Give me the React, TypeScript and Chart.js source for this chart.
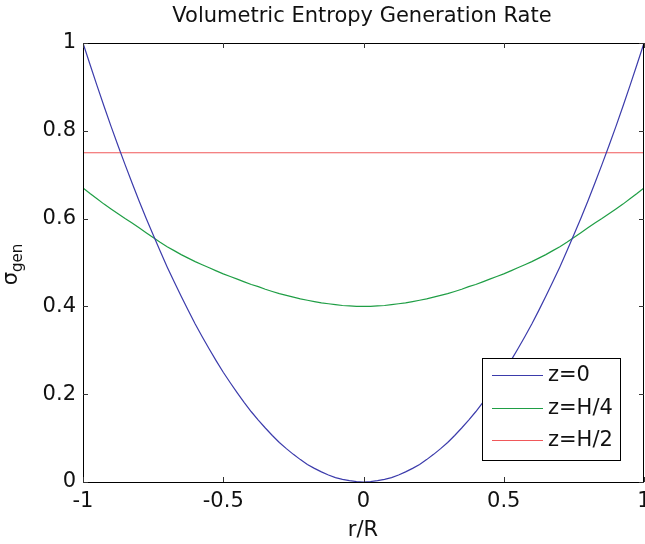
import React, { useEffect, useRef } from "react";
import { Chart, registerables } from "chart.js";

Chart.register(...registerables);

const rValues = [
  -1, -0.975, -0.95, -0.925, -0.9, -0.875, -0.85, -0.825, -0.8, -0.775,
  -0.75, -0.725, -0.7, -0.675, -0.65, -0.625, -0.6, -0.575, -0.55, -0.525,
  -0.5, -0.475, -0.45, -0.425, -0.4, -0.375, -0.35, -0.325, -0.3, -0.275,
  -0.25, -0.225, -0.2, -0.175, -0.15, -0.125, -0.1, -0.075, -0.05, -0.025,
  0,
  0.025, 0.05, 0.075, 0.1, 0.125, 0.15, 0.175, 0.2, 0.225, 0.25,
  0.275, 0.3, 0.325, 0.35, 0.375, 0.4, 0.425, 0.45, 0.475, 0.5,
  0.525, 0.55, 0.575, 0.6, 0.625, 0.65, 0.675, 0.7, 0.725, 0.75,
  0.775, 0.8, 0.825, 0.85, 0.875, 0.9, 0.925, 0.95, 0.975, 1,
];

const sigmaZ0 = [
  1.0, 0.951, 0.903, 0.856, 0.81, 0.766, 0.723, 0.681, 0.64, 0.601,
  0.563, 0.526, 0.49, 0.456, 0.423, 0.391, 0.36, 0.331, 0.303, 0.276,
  0.25, 0.226, 0.203, 0.181, 0.16, 0.141, 0.123, 0.106, 0.09, 0.076,
  0.063, 0.051, 0.04, 0.031, 0.023, 0.016, 0.01, 0.006, 0.003, 0.001,
  0.0,
  0.001, 0.003, 0.006, 0.01, 0.016, 0.023, 0.031, 0.04, 0.051, 0.063,
  0.076, 0.09, 0.106, 0.123, 0.141, 0.16, 0.181, 0.203, 0.226, 0.25,
  0.276, 0.303, 0.331, 0.36, 0.391, 0.423, 0.456, 0.49, 0.526, 0.563,
  0.601, 0.64, 0.681, 0.723, 0.766, 0.81, 0.856, 0.903, 0.951, 1.0,
];

const sigmaZH4 = [
  0.67, 0.657, 0.645, 0.633, 0.622, 0.611, 0.6, 0.59, 0.579, 0.568,
  0.557, 0.546, 0.536, 0.527, 0.518, 0.51, 0.502, 0.495, 0.488, 0.481,
  0.474, 0.468, 0.462, 0.456, 0.45, 0.445, 0.439, 0.434, 0.429, 0.425,
  0.421, 0.417, 0.414, 0.411, 0.408, 0.406, 0.404, 0.402, 0.401, 0.4,
  0.4,
  0.4, 0.401, 0.402, 0.404, 0.406, 0.408, 0.411, 0.414, 0.417, 0.421,
  0.425, 0.429, 0.434, 0.439, 0.445, 0.45, 0.456, 0.462, 0.468, 0.474,
  0.481, 0.488, 0.495, 0.502, 0.51, 0.518, 0.527, 0.536, 0.546, 0.557,
  0.568, 0.579, 0.59, 0.6, 0.611, 0.622, 0.633, 0.645, 0.657, 0.67,
];

const sigmaZH2 = [
  0.75, 0.75, 0.75, 0.75, 0.75, 0.75, 0.75, 0.75, 0.75, 0.75,
  0.75, 0.75, 0.75, 0.75, 0.75, 0.75, 0.75, 0.75, 0.75, 0.75,
  0.75, 0.75, 0.75, 0.75, 0.75, 0.75, 0.75, 0.75, 0.75, 0.75,
  0.75, 0.75, 0.75, 0.75, 0.75, 0.75, 0.75, 0.75, 0.75, 0.75,
  0.75,
  0.75, 0.75, 0.75, 0.75, 0.75, 0.75, 0.75, 0.75, 0.75, 0.75,
  0.75, 0.75, 0.75, 0.75, 0.75, 0.75, 0.75, 0.75, 0.75, 0.75,
  0.75, 0.75, 0.75, 0.75, 0.75, 0.75, 0.75, 0.75, 0.75, 0.75,
  0.75, 0.75, 0.75, 0.75, 0.75, 0.75, 0.75, 0.75, 0.75, 0.75,
];

const seriesLabels = ["z=0", "z=H/4", "z=H/2"];
const seriesColors = ["#3b3bab", "#1f9e45", "#f0585a"];
const xTicks = [-1, -0.5, 0, 0.5, 1];
const yTicks = [0, 0.2, 0.4, 0.6, 0.8, 1];
const titleText = "Volumetric Entropy Generation Rate";
const xLabel = "r/R";
const yLabelMain = "σ";
const yLabelSub = "gen";

const FONT = "'DejaVu Sans', sans-serif";

const decorPlugin = {
  id: "matlabDecor",
  afterDraw(chart: any) {
    const ctx = chart.ctx as CanvasRenderingContext2D;
    const area = chart.chartArea;
    const xs = chart.scales.x;
    const ys = chart.scales.y;
    ctx.save();

    // box
    ctx.strokeStyle = "#000";
    ctx.lineWidth = 1;
    ctx.strokeRect(area.left + 0.5, area.top + 0.5, area.right - area.left - 1, area.bottom - area.top);

    // inward tick marks
    const tl = 5;
    ctx.strokeStyle = "#333";
    ctx.beginPath();
    xTicks.forEach((t) => {
      const px = Math.round(xs.getPixelForValue(t)) + 0.5;
      ctx.moveTo(px, area.bottom);
      ctx.lineTo(px, area.bottom - tl);
      ctx.moveTo(px, area.top);
      ctx.lineTo(px, area.top + tl);
    });
    yTicks.forEach((t) => {
      const py = Math.round(ys.getPixelForValue(t)) + 0.5;
      ctx.moveTo(area.left, py);
      ctx.lineTo(area.left + tl, py);
      ctx.moveTo(area.right, py);
      ctx.lineTo(area.right - tl, py);
    });
    ctx.stroke();

    // title
    ctx.fillStyle = "#111";
    ctx.font = `21px ${FONT}`;
    ctx.textAlign = "center";
    ctx.textBaseline = "alphabetic";
    ctx.fillText(titleText, 362, 22);

    // x label
    ctx.fillText(xLabel, 363, 536);

    // y label (rotated with subscript)
    ctx.font = `21px ${FONT}`;
    const wMain = ctx.measureText(yLabelMain).width;
    ctx.font = `15px ${FONT}`;
    const wSub = ctx.measureText(yLabelSub).width;
    const total = wMain + wSub;
    const cy = (area.top + area.bottom) / 2 + 2;
    ctx.save();
    ctx.translate(17, cy + total / 2);
    ctx.rotate(-Math.PI / 2);
    ctx.textAlign = "left";
    ctx.font = `21px ${FONT}`;
    ctx.fillText(yLabelMain, 0, 0);
    ctx.font = `15px ${FONT}`;
    ctx.fillText(yLabelSub, wMain, 5);
    ctx.restore();

    // legend
    const lx = 482, ly = 358, lw = 138, lh = 102;
    ctx.fillStyle = "#fff";
    ctx.fillRect(lx, ly, lw, lh);
    ctx.strokeStyle = "#000";
    ctx.lineWidth = 1;
    ctx.strokeRect(lx + 0.5, ly + 0.5, lw, lh);
    const rows = [375, 408, 440];
    chart.data.datasets.forEach((ds: any, i: number) => {
      ctx.strokeStyle = ds.borderColor;
      ctx.lineWidth = 1.2;
      ctx.beginPath();
      ctx.moveTo(492, rows[i] + 0.5);
      ctx.lineTo(543, rows[i] + 0.5);
      ctx.stroke();
      ctx.fillStyle = "#111";
      ctx.font = `21px ${FONT}`;
      ctx.textAlign = "left";
      ctx.textBaseline = "middle";
      ctx.fillText(ds.label, 548, rows[i] + 1);
    });

    ctx.restore();
  },
};

export default function App() {
  const canvasRef = useRef<HTMLCanvasElement | null>(null);

  useEffect(() => {
    document.body.style.margin = "0";
    const canvas = canvasRef.current;
    if (!canvas) return;
    const seriesValues = [sigmaZ0, sigmaZH4, sigmaZH2];
    const chart = new Chart(canvas, {
      type: "line",
      data: {
        datasets: seriesValues.map((vals, i) => ({
          label: seriesLabels[i],
          data: rValues.map((r, j) => ({ x: r, y: vals[j] })),
          borderColor: seriesColors[i],
          backgroundColor: seriesColors[i],
          borderWidth: 1.2,
          pointRadius: 0,
          tension: 0,
          fill: false,
        })),
      },
      options: {
        responsive: false,
        animation: false,
        devicePixelRatio: 1,
        layout: { padding: { top: 43, left: 0, right: 1, bottom: 0 } },
        plugins: {
          legend: { display: false },
          title: { display: false },
          tooltip: { enabled: false },
        },
        scales: {
          x: {
            type: "linear",
            min: -1,
            max: 1,
            grid: { display: false, drawTicks: false },
            border: { display: false },
            afterBuildTicks: (scale: any) => {
              scale.ticks = xTicks.map((v) => ({ value: v }));
            },
            ticks: {
              autoSkip: false,
              maxRotation: 0,
              padding: 7,
              color: "#111",
              font: { family: FONT, size: 21 },
              callback: (v: any) => String(v),
            },
            afterFit: (scale: any) => {
              scale.height = 62;
              scale.paddingLeft = 0;
              scale.paddingRight = 0;
            },
          },
          y: {
            type: "linear",
            min: 0,
            max: 1,
            grid: { display: false, drawTicks: false },
            border: { display: false },
            afterBuildTicks: (scale: any) => {
              scale.ticks = yTicks.map((v) => ({ value: v }));
            },
            ticks: {
              autoSkip: false,
              padding: 7,
              color: "#111",
              font: { family: FONT, size: 21 },
              callback: (v: any) => String(v),
            },
            afterFit: (scale: any) => {
              scale.width = 83;
              scale.paddingTop = 0;
              scale.paddingBottom = 0;
            },
          },
        },
      },
      plugins: [decorPlugin],
    });
    return () => chart.destroy();
  }, []);

  return (
    <div style={{ position: "absolute", left: 0, top: 0, width: 645, height: 544 }}>
      <canvas ref={canvasRef} width={645} height={544} style={{ width: 645, height: 544 }} />
    </div>
  );
}
